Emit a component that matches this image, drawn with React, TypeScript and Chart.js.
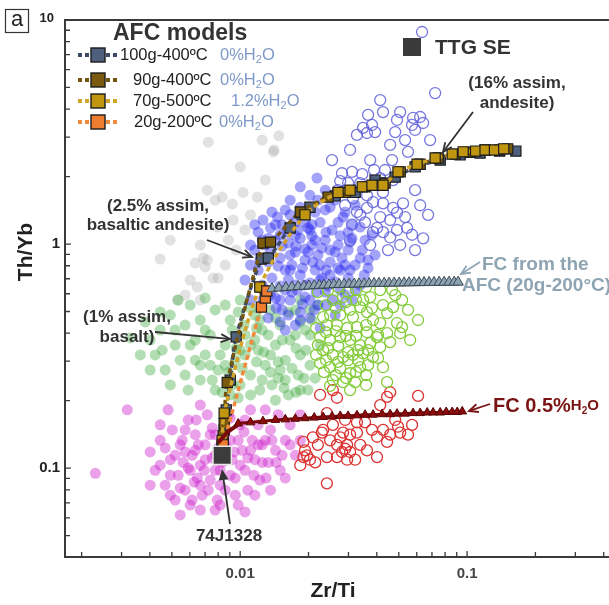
import React, { useEffect, useRef } from "react";
import { Chart, registerables } from "chart.js";

Chart.register(...registerables);

type Pt = [number, number];

// ---------- axes ----------
const xRange: [number, number] = [0.00169, 0.422];
const yRange: [number, number] = [0.0401, 10];
const xTickValues = [0.01, 0.1];
const xTickLabels = ["0.01", "0.1"];
const yTickValues = [0.1, 1, 10];
const yTickLabels = ["0.1", "1", "10"];
const xTitle = "Zr/Ti";
const yTitle = "Th/Yb";

// ---------- data clouds (Zr/Ti, Th/Yb) ----------
const greyCloud: Pt[] = [
  [0.00723, 2.85], [0.0148, 3.04], [0.0141, 2.63], [0.01, 2.21], [0.0103, 1.7], [0.0119, 1.62],
  [0.00833, 1.62], [0.00923, 1.51], [0.00716, 1.74], [0.00776, 1.57], [0.00667, 0.99], [0.00687, 0.866],
  [0.00444, 0.857], [0.00634, 0.822], [0.00701, 0.79], [0.00647, 0.643], [0.00667, 0.562], [0.00528, 0.562],
  [0.0076, 0.705], [0.00716, 0.848], [0.00792, 1.19], [0.00932, 1.28], [0.008, 0.705], [0.00602, 0.691],
  [0.014, 2.58], [0.00887, 1.04], [0.00859, 0.806], [0.0105, 1.155], [0.00572, 0.592], [0.0111, 1.35],
  [0.0129, 1.93], [0.0096, 0.94], [0.0125, 2.91], [0.00492, 1.04],
];

const blueCloud: Pt[] = [
  [0.0184, 1.8], [0.0218, 1.97], [0.0203, 1.65], [0.0237, 1.74], [0.0166, 1.57], [0.0262, 1.57],
  [0.0184, 1.46], [0.0249, 1.46], [0.0146, 1.32], [0.0126, 1.28], [0.0158, 1.42], [0.0214, 1.39],
  [0.029, 1.39], [0.0321, 1.49], [0.0284, 1.32], [0.0338, 1.19], [0.0136, 1.18], [0.0153, 1.22],
  [0.0175, 1.25], [0.0199, 1.18], [0.0225, 1.25], [0.0254, 1.155], [0.0299, 1.13], [0.0381, 1.1],
  [0.012, 1.13], [0.0129, 0.99], [0.0143, 1.04], [0.0163, 1.01], [0.0184, 1.06], [0.0207, 0.99],
  [0.0237, 1.04], [0.027, 0.99], [0.0305, 1.02], [0.0345, 0.94], [0.0393, 0.893], [0.0116, 0.94],
  [0.0175, 0.921], [0.022, 0.893], [0.0133, 0.831], [0.015, 0.866], [0.0169, 0.806], [0.0193, 0.848],
  [0.0249, 0.831], [0.0281, 0.866], [0.0321, 0.806], [0.0366, 0.781], [0.0111, 0.806], [0.0158, 0.765],
  [0.0214, 0.765], [0.0138, 0.705], [0.0163, 0.691], [0.0184, 0.727], [0.0203, 0.67], [0.0229, 0.705],
  [0.0262, 0.677], [0.0299, 0.705], [0.0338, 0.656], [0.0105, 0.691], [0.0125, 0.656], [0.0178, 0.623],
  [0.0237, 0.61], [0.0143, 0.574], [0.0166, 0.562], [0.0193, 0.58], [0.022, 0.534], [0.0254, 0.562],
  [0.029, 0.592], [0.0153, 0.508], [0.0184, 0.497], [0.0126, 0.562], [0.0203, 0.468], [0.015, 0.449],
  [0.0175, 0.435], [0.0225, 0.422], [0.0133, 0.468], [0.0262, 0.482], [0.015, 1.1], [0.0193, 0.95],
  [0.0166, 0.893], [0.0225, 0.806], [0.0276, 0.765], [0.0203, 1.155], [0.0175, 0.656], [0.0249, 0.94],
  [0.0136, 0.592], [0.0321, 0.623], [0.0158, 0.623], [0.0214, 1.04], [0.0111, 0.562], [0.0237, 1.42],
  [0.0143, 1.22], [0.0161, 1.13], [0.018, 1.155], [0.0207, 1.09], [0.0239, 1.13], [0.0276, 1.09],
  [0.0311, 1.06], [0.0133, 1.06], [0.0153, 0.98], [0.0176, 0.98], [0.0199, 0.921], [0.0229, 0.96],
  [0.0262, 0.921], [0.0299, 0.94], [0.0338, 0.866], [0.0136, 0.921], [0.0147, 0.798], [0.0166, 0.765],
  [0.0188, 0.781], [0.0209, 0.831], [0.0239, 0.765], [0.027, 0.781], [0.0305, 0.765], [0.0352, 0.727],
  [0.012, 0.765], [0.013, 0.623], [0.015, 0.65], [0.0169, 0.61], [0.0191, 0.656], [0.0216, 0.61],
  [0.0244, 0.65], [0.0276, 0.623], [0.0311, 0.562], [0.0144, 0.518], [0.0163, 0.482], [0.0188, 0.54],
  [0.0212, 0.508], [0.0239, 0.534], [0.0276, 0.534], [0.0122, 0.848], [0.0138, 1.39], [0.0166, 1.35],
  [0.0193, 1.25], [0.022, 1.57], [0.027, 1.25], [0.0311, 1.22], [0.0355, 1.04], [0.015, 0.562],
  [0.0184, 0.458], [0.0158, 0.413], [0.0203, 0.562], [0.0225, 0.691], [0.0175, 1.09], [0.0249, 0.727],
  [0.029, 0.806], [0.0125, 1.04], [0.0116, 1.22], [0.0111, 0.99], [0.0366, 0.848], [0.0207, 1.22],
];

const greenCloud: Pt[] = [
  [0.00363, 0.32], [0.00401, 0.373], [0.00444, 0.413], [0.00492, 0.482], [0.00517, 0.354], [0.00544, 0.303],
  [0.00572, 0.435], [0.00602, 0.534], [0.00634, 0.373], [0.00667, 0.458], [0.00701, 0.32], [0.00738, 0.393],
  [0.00776, 0.508], [0.008, 0.274], [0.00859, 0.354], [0.00904, 0.458], [0.00951, 0.303], [0.01, 0.562],
  [0.0105, 0.393], [0.0111, 0.26], [0.0116, 0.482], [0.012, 0.336], [0.0125, 0.413], [0.0129, 0.288],
  [0.0136, 0.508], [0.0138, 0.235], [0.0143, 0.354], [0.015, 0.435], [0.0158, 0.303], [0.0163, 0.212],
  [0.0166, 0.373], [0.0175, 0.508], [0.018, 0.26], [0.0184, 0.32], [0.0193, 0.413], [0.0199, 0.223],
  [0.0203, 0.288], [0.0111, 0.212], [0.00922, 0.235], [0.00776, 0.223], [0.00667, 0.247], [0.00572, 0.26],
  [0.00467, 0.274], [0.00401, 0.274], [0.00328, 0.381], [0.0143, 0.201], [0.0122, 0.223], [0.0105, 0.32],
  [0.0184, 0.562], [0.0207, 0.458], [0.0225, 0.354], [0.0158, 0.247], [0.0136, 0.32], [0.0116, 0.373],
  [0.01, 0.336], [0.00904, 0.212], [0.0175, 0.393], [0.015, 0.274], [0.0122, 0.458], [0.00859, 0.288],
  [0.00738, 0.288], [0.00634, 0.303], [0.0184, 0.223],
  [0.00859, 0.534], [0.0098, 0.497], [0.0111, 0.518], [0.0125, 0.534], [0.0143, 0.468], [0.0163, 0.497],
  [0.0184, 0.449], [0.0203, 0.393], [0.00922, 0.413], [0.0104, 0.435], [0.0118, 0.422], [0.0133, 0.393],
  [0.0153, 0.373], [0.0176, 0.343], [0.0195, 0.336], [0.00816, 0.32], [0.0096, 0.343], [0.0111, 0.354],
  [0.0127, 0.329], [0.0147, 0.298], [0.0169, 0.279], [0.0191, 0.252], [0.00887, 0.268], [0.0102, 0.279],
  [0.0118, 0.298], [0.0136, 0.268], [0.0156, 0.228], [0.0176, 0.218], [0.01, 0.235], [0.0125, 0.247],
  [0.0147, 0.252], [0.00701, 0.413], [0.00602, 0.354], [0.00517, 0.413], [0.00453, 0.336], [0.00667, 0.288],
  [0.00753, 0.247], [0.0059, 0.223], [0.00492, 0.235], [0.00422, 0.32], [0.00382, 0.449], [0.00444, 0.497],
  [0.00533, 0.562], [0.00701, 0.574], [0.00833, 0.218], [0.0098, 0.206], [0.0214, 0.252], [0.022, 0.534],
  [0.0203, 0.508],
];

const magentaCloud: Pt[] = [
  [0.0023, 0.0948], [0.00318, 0.182], [0.00401, 0.118], [0.00422, 0.0977], [0.00444, 0.133], [0.00467, 0.0839],
  [0.00492, 0.109], [0.00502, 0.148], [0.00517, 0.072], [0.00533, 0.0929], [0.00544, 0.127], [0.00561, 0.106],
  [0.00572, 0.0797], [0.0059, 0.164], [0.00602, 0.0684], [0.00614, 0.114], [0.00634, 0.141], [0.00647, 0.0902],
  [0.00667, 0.103], [0.0068, 0.0757], [0.00701, 0.127], [0.00716, 0.173], [0.00738, 0.0884], [0.00753, 0.111],
  [0.00776, 0.141], [0.00792, 0.072], [0.00816, 0.0977], [0.00859, 0.0797], [0.00887, 0.173], [0.00904, 0.133],
  [0.00922, 0.109], [0.00951, 0.0902], [0.0098, 0.0684], [0.01, 0.156], [0.0102, 0.12], [0.0105, 0.0977],
  [0.0108, 0.0797], [0.0111, 0.182], [0.0113, 0.133], [0.0116, 0.109], [0.012, 0.156], [0.0122, 0.0884],
  [0.0125, 0.127], [0.0129, 0.182], [0.0133, 0.106], [0.0136, 0.148], [0.0143, 0.12], [0.0147, 0.173],
  [0.015, 0.0977], [0.0158, 0.133], [0.0166, 0.156], [0.0175, 0.114], [0.0184, 0.173], [0.00481, 0.182],
  [0.00667, 0.191], [0.00776, 0.065], [0.0105, 0.0637], [0.00544, 0.0618], [0.0158, 0.0902], [0.00602, 0.0977],
  [0.00634, 0.12], [0.00701, 0.109], [0.00776, 0.114], [0.00859, 0.127], [0.00738, 0.141], [0.00816, 0.0839],
  [0.00667, 0.0839], [0.00572, 0.118], [0.00904, 0.0929], [0.0111, 0.12], [0.01, 0.103], [0.0129, 0.133],
  [0.00492, 0.0929], [0.00444, 0.103],
  [0.00517, 0.114], [0.00555, 0.133], [0.0059, 0.1], [0.00627, 0.0866], [0.00654, 0.127], [0.00694, 0.0977],
  [0.00723, 0.0797], [0.00753, 0.151], [0.008, 0.123], [0.00833, 0.106], [0.00868, 0.148], [0.00941, 0.118],
  [0.0098, 0.133], [0.0104, 0.145], [0.0108, 0.111], [0.0115, 0.0929], [0.012, 0.127], [0.0125, 0.106],
  [0.013, 0.0902], [0.0138, 0.133], [0.0144, 0.106], [0.0153, 0.114], [0.00444, 0.156], [0.00401, 0.0839],
  [0.00467, 0.123], [0.00572, 0.148], [0.0064, 0.164], [0.00904, 0.167], [0.00816, 0.0684], [0.00667, 0.065],
  [0.00492, 0.0757], [0.00544, 0.0814], [0.00614, 0.072], [0.00951, 0.0757], [0.0116, 0.0757], [0.0136, 0.0797],
  [0.0166, 0.127], [0.0184, 0.133], [0.0105, 0.164], [0.00776, 0.0977],
];

const blueRings: Pt[] = [
  [0.0633, 8.84], [0.0723, 4.72], [0.0414, 4.39], [0.0426, 3.88], [0.0507, 3.88], [0.0491, 3.58],
  [0.0578, 3.66], [0.0621, 3.69], [0.0572, 3.4], [0.064, 3.47], [0.0482, 3.16], [0.059, 3.23],
  [0.0348, 3.3], [0.0381, 3.4], [0.0327, 3.07], [0.0362, 3.13], [0.0393, 3.16], [0.0549, 2.58],
  [0.0254, 2.37], [0.0281, 2.07], [0.0311, 2.1], [0.0345, 2.05], [0.0389, 2.14], [0.0435, 2.14],
  [0.0414, 1.97], [0.0472, 1.93], [0.0276, 1.91], [0.0299, 1.87], [0.0338, 1.87], [0.0426, 1.7],
  [0.0314, 1.6], [0.0362, 1.65], [0.0385, 1.54], [0.0426, 1.52], [0.0522, 1.52], [0.0472, 1.45],
  [0.0327, 1.39], [0.0362, 1.45], [0.0414, 1.32], [0.0458, 1.28], [0.0491, 1.38], [0.0533, 1.32],
  [0.0338, 1.35], [0.0355, 1.25], [0.0544, 1.18], [0.0401, 1.18], [0.0426, 1.13], [0.0458, 1.07],
  [0.0491, 1.155], [0.0572, 1.1], [0.064, 1.06], [0.0448, 0.94], [0.0385, 1.13],
  [0.0305, 2.63], [0.0458, 2.77], [0.0533, 2.91], [0.0374, 2.37], [0.059, 1.74], [0.0621, 1.49],
  [0.029, 1.49], [0.0311, 1.22], [0.0374, 0.99], [0.0507, 0.99], [0.059, 0.94], [0.0673, 1.35],
  [0.0467, 2.37], [0.0366, 3.77], [0.0687, 2.91], [0.0305, 1.04], [0.027, 1.74],
];

const limeRings: Pt[] = [
  [0.0414, 0.623], [0.0467, 0.623], [0.0517, 0.562], [0.0472, 0.523], [0.0426, 0.534], [0.0374, 0.58],
  [0.0348, 0.562], [0.0338, 0.523], [0.0305, 0.508], [0.0284, 0.58], [0.0256, 0.562], [0.0232, 0.472],
  [0.0249, 0.482], [0.0276, 0.482], [0.0314, 0.472], [0.0362, 0.497], [0.0385, 0.458], [0.0414, 0.444],
  [0.0444, 0.492], [0.0491, 0.444], [0.0517, 0.426], [0.0608, 0.458], [0.0507, 0.4], [0.0444, 0.4],
  [0.0401, 0.384], [0.0362, 0.404], [0.0327, 0.426], [0.0296, 0.422], [0.0267, 0.435], [0.0241, 0.435],
  [0.0225, 0.384], [0.0249, 0.373], [0.0276, 0.384], [0.0305, 0.373], [0.0338, 0.354], [0.0374, 0.361],
  [0.0414, 0.347], [0.0458, 0.365], [0.0232, 0.336], [0.0256, 0.32], [0.0284, 0.313], [0.0314, 0.32],
  [0.0348, 0.325], [0.0385, 0.313], [0.0225, 0.294], [0.0249, 0.282], [0.0276, 0.279], [0.0305, 0.265],
  [0.0338, 0.282], [0.0426, 0.282], [0.0444, 0.242], [0.0284, 0.242], [0.0256, 0.247], [0.0321, 0.242],
  [0.022, 0.61], [0.0244, 0.623], [0.027, 0.643], [0.0299, 0.61], [0.0324, 0.623], [0.0359, 0.643],
  [0.0239, 0.534], [0.0264, 0.518], [0.0293, 0.551], [0.0324, 0.562], [0.0381, 0.518], [0.0216, 0.422],
  [0.0239, 0.404], [0.0264, 0.409], [0.0293, 0.389], [0.0324, 0.389], [0.0359, 0.435], [0.022, 0.354],
  [0.0244, 0.343], [0.027, 0.351], [0.0299, 0.329], [0.0331, 0.336], [0.0366, 0.336], [0.0405, 0.393],
  [0.0216, 0.32], [0.0239, 0.303], [0.027, 0.298], [0.0299, 0.303], [0.0331, 0.303], [0.0366, 0.288],
  [0.0405, 0.31], [0.0234, 0.268], [0.0264, 0.26], [0.0293, 0.252], [0.0324, 0.268], [0.0359, 0.26],
  [0.0249, 0.233], [0.0305, 0.223], [0.0359, 0.235], [0.0482, 0.592], [0.0549, 0.508], [0.0561, 0.373],
];

const redRings: Pt[] = [
  [0.0225, 0.212], [0.0256, 0.223], [0.0267, 0.206], [0.0458, 0.218], [0.0444, 0.208], [0.0608, 0.21],
  [0.0414, 0.191], [0.0241, 0.176], [0.0232, 0.148], [0.0256, 0.156], [0.0284, 0.144], [0.0276, 0.137],
  [0.0305, 0.141], [0.0327, 0.144], [0.0267, 0.127], [0.0296, 0.127], [0.0305, 0.118], [0.0281, 0.118],
  [0.0267, 0.112], [0.019, 0.131], [0.0209, 0.137], [0.019, 0.112], [0.0203, 0.109], [0.0214, 0.106],
  [0.0241, 0.112], [0.0296, 0.109], [0.0362, 0.12], [0.0401, 0.112], [0.0355, 0.16], [0.0426, 0.148],
  [0.0458, 0.141], [0.0496, 0.153], [0.0507, 0.144], [0.0549, 0.141], [0.0444, 0.131], [0.0401, 0.138],
  [0.0241, 0.0855], [0.0229, 0.144], [0.0327, 0.16], [0.029, 0.122], [0.0197, 0.114],
  [0.0193, 0.12], [0.022, 0.127], [0.0249, 0.133], [0.029, 0.164], [0.0338, 0.127], [0.0381, 0.148],
  [0.0482, 0.164], [0.0572, 0.156], [0.0184, 0.103], [0.0321, 0.109],
];

// ---------- AFC models ----------
const afcLabels = ["100g-400ºC", "90g-400ºC", "70g-500ºC", "20g-200ºC"];
const afcWater = ["0%", "0%", "1.2%", "0%"];

const afc100: Pt[] = [
  [0.00833, 0.124], [0.0085, 0.148], [0.00868, 0.182], [0.00904, 0.247], [0.0096, 0.385], [0.0124, 0.857],
  [0.0133, 0.866], [0.0166, 1.18], [0.0203, 1.46], [0.0262, 1.64], [0.0321, 1.7], [0.0393, 1.93],
  [0.0482, 1.99], [0.059, 2.21], [0.0761, 2.37], [0.0932, 2.5], [0.114, 2.55], [0.139, 2.6], [0.164, 2.6],
];
const afc90: Pt[] = [
  [0.00833, 0.127], [0.00842, 0.14], [0.0085, 0.158], [0.00877, 0.241], [0.0126, 1.01], [0.0136, 1.02],
  [0.0184, 1.39], [0.0244, 1.62], [0.029, 1.7], [0.0355, 1.8], [0.0435, 1.87], [0.0507, 2.1],
  [0.0621, 2.27], [0.0745, 2.42], [0.0886, 2.52], [0.103, 2.57], [0.12, 2.63], [0.139, 2.63], [0.151, 2.66],
];
const afc70: Pt[] = [
  [0.00833, 0.133], [0.0085, 0.176], [0.0122, 0.643], [0.0193, 1.35], [0.027, 1.7], [0.0305, 1.74],
  [0.0345, 1.8], [0.0381, 1.83], [0.0426, 1.83], [0.0496, 2.1], [0.0602, 2.27], [0.0723, 2.42],
  [0.086, 2.52], [0.0961, 2.58], [0.109, 2.6], [0.12, 2.63], [0.132, 2.63], [0.145, 2.66],
];
const afc20: Pt[] = [[0.00842, 0.127], [0.0124, 0.523], [0.0129, 0.574], [0.0131, 0.617]];

// FC from the AFC (20g-200ºC)
const fcAfcZrTi = [
  0.0138, 0.0148, 0.0159, 0.0169, 0.018, 0.0191, 0.0201, 0.0212, 0.0223, 0.0234, 0.0246, 0.0259, 0.0273,
  0.0287, 0.0302, 0.0318, 0.0334, 0.0352, 0.037, 0.0389, 0.0409, 0.0431, 0.0453, 0.0477, 0.0502, 0.0528,
  0.0555, 0.0584, 0.0614, 0.0646, 0.068, 0.0715, 0.0753, 0.0792, 0.0833, 0.0877, 0.0913,
];
const fcAfcThYb = [
  0.632, 0.636, 0.64, 0.643, 0.646, 0.648, 0.65, 0.652, 0.654, 0.656, 0.657, 0.659, 0.66,
  0.661, 0.662, 0.663, 0.664, 0.665, 0.666, 0.667, 0.668, 0.668, 0.669, 0.67, 0.67, 0.671,
  0.672, 0.672, 0.673, 0.673, 0.674, 0.674, 0.675, 0.675, 0.676, 0.676, 0.676,
];

// FC 0.5% H2O
const fcWaterStem: Pt[] = [[0.008, 0.13], [0.00887, 0.146], [0.0096, 0.154], [0.0098, 0.158]];
const fcWaterZrTi = [
  0.0098, 0.0111, 0.0126, 0.0143, 0.0158, 0.0175, 0.0193, 0.0212, 0.0232, 0.0254, 0.0276, 0.0299, 0.0327,
  0.0355, 0.0385, 0.0422, 0.0458, 0.0491, 0.0533, 0.0578, 0.0621, 0.0667, 0.0708, 0.0761, 0.0809, 0.086,
  0.0905, 0.0952,
];
const fcWaterThYb = [
  0.158, 0.16, 0.162, 0.164, 0.165, 0.166, 0.167, 0.168, 0.169, 0.17, 0.171, 0.171, 0.172,
  0.173, 0.173, 0.174, 0.174, 0.175, 0.175, 0.176, 0.176, 0.177, 0.177, 0.177, 0.178, 0.178,
  0.178, 0.179,
];

const ttgSE: Pt[] = [[0.00833, 0.114]];

// ---------- styling ----------
const FONT = '"Liberation Sans", Arial, Helvetica, sans-serif';
const afcLine = ["#3d4b68", "#735510", "#d3a42a", "#f08a3c"];
const afcFill = ["#4f607f", "#7a5a0c", "#c0950f", "#f07c30"];

const xy = (a: Pt[]) => a.map(([x, y]) => ({ x, y }));
const zip = (xs: number[], ys: number[]) => xs.map((x, i) => ({ x, y: ys[i] }));

const cloud = (label: string, pts: Pt[], color: string, order: number) => ({
  label, data: xy(pts), backgroundColor: color, borderWidth: 0, pointRadius: 5.5, pointHoverRadius: 5.5, order,
});
const ring = (label: string, pts: Pt[], color: string, order: number) => ({
  label, data: xy(pts), backgroundColor: "rgba(0,0,0,0)", borderColor: color, borderWidth: 1.3,
  pointRadius: 5.5, pointHoverRadius: 5.5, order,
});
const model = (i: number, pts: Pt[], order: number) => ({
  label: afcLabels[i], data: xy(pts), showLine: true, tension: 0.3,
  borderColor: afcLine[i], borderWidth: 3.5, borderDash: [5, 3],
  pointStyle: "rect", pointRadius: 7.2, pointHoverRadius: 7.2,
  pointBackgroundColor: afcFill[i], pointBorderColor: "#1c1c1c", pointBorderWidth: 1.2, order,
});

function txt(ctx: CanvasRenderingContext2D, s: string, x: number, y: number, size: number, color: string,
  bold = true, align: CanvasTextAlign = "left") {
  ctx.font = `${bold ? "bold " : ""}${size}px ${FONT}`;
  ctx.fillStyle = color;
  ctx.textAlign = align;
  ctx.textBaseline = "middle";
  ctx.fillText(s, x, y);
  return ctx.measureText(s).width;
}

function chem(ctx: CanvasRenderingContext2D, lead: string, x: number, y: number, size: number,
  subSize: number, color: string, bold: boolean, leadSize?: number) {
  let cx = x;
  cx += txt(ctx, lead, cx, y, leadSize ?? size, color, bold);
  cx += txt(ctx, "H", cx, y, size, color, bold);
  cx += txt(ctx, "2", cx, y + size * 0.32, subSize, color, bold);
  txt(ctx, "O", cx, y, size, color, bold);
}

function arrow(ctx: CanvasRenderingContext2D, x1: number, y1: number, x2: number, y2: number,
  color: string, filled = false, head = 10, width = 1.8) {
  const a = Math.atan2(y2 - y1, x2 - x1);
  ctx.save();
  ctx.strokeStyle = color;
  ctx.fillStyle = color;
  ctx.lineWidth = width;
  ctx.setLineDash([]);
  ctx.beginPath();
  ctx.moveTo(x1, y1);
  ctx.lineTo(x2 - Math.cos(a) * (filled ? head * 0.8 : 1), y2 - Math.sin(a) * (filled ? head * 0.8 : 1));
  ctx.stroke();
  ctx.beginPath();
  ctx.moveTo(x2 - head * Math.cos(a - 0.42), y2 - head * Math.sin(a - 0.42));
  ctx.lineTo(x2, y2);
  ctx.lineTo(x2 - head * Math.cos(a + 0.42), y2 - head * Math.sin(a + 0.42));
  if (filled) { ctx.closePath(); ctx.fill(); } else ctx.stroke();
  ctx.restore();
}

const decor = {
  id: "decor",
  beforeDraw(chart: any) {
    const ctx = chart.ctx as CanvasRenderingContext2D;
    ctx.save();
    ctx.fillStyle = "#fff";
    ctx.fillRect(0, 0, chart.width, chart.height);
    ctx.restore();
  },
  afterDraw(chart: any) {
    const ctx = chart.ctx as CanvasRenderingContext2D;
    const { left, right, top, bottom } = chart.chartArea;
    const xs = chart.scales.x;
    const ys = chart.scales.y;
    ctx.save();

    // frame
    ctx.strokeStyle = "#3a3a3a";
    ctx.lineWidth = 2;
    ctx.beginPath();
    ctx.moveTo(right, top); ctx.lineTo(left, top); ctx.lineTo(left, bottom); ctx.lineTo(right, bottom);
    ctx.stroke();

    // inward ticks
    ctx.lineWidth = 1.3;
    ctx.beginPath();
    for (let e = -3; e <= 1; e++) {
      for (let m = 1; m <= 9; m++) {
        const v = m * Math.pow(10, e);
        if (v >= xRange[0] && v <= xRange[1]) {
          const px = xs.getPixelForValue(v);
          ctx.moveTo(px, bottom); ctx.lineTo(px, bottom - (m === 1 ? 6 : 5));
        }
        if (v >= yRange[0] && v <= yRange[1]) {
          const py = ys.getPixelForValue(v);
          ctx.moveTo(left, py); ctx.lineTo(left + (m === 1 ? 6 : 5), py);
        }
      }
    }
    ctx.stroke();

    // tick labels
    xTickValues.forEach((v, i) => txt(ctx, xTickLabels[i], xs.getPixelForValue(v), bottom + 17, 15, "#444", true, "center"));
    yTickValues.forEach((v, i) => {
      const py = ys.getPixelForValue(v);
      const top10 = v >= yRange[1];
      txt(ctx, yTickLabels[i], top10 ? 54 : 60, top10 ? py - 2 : py, top10 ? 13 : 15, "#222", true, "right");
    });

    // axis titles
    txt(ctx, xTitle, 333, bottom + 34, 21, "#222", true, "center");
    ctx.save();
    ctx.translate(26, 252);
    ctx.rotate(-Math.PI / 2);
    txt(ctx, yTitle, 0, 0, 21, "#222", true, "center");
    ctx.restore();

    // panel letter
    ctx.strokeStyle = "#333";
    ctx.lineWidth = 1.2;
    ctx.strokeRect(5.5, 9.5, 23, 23);
    txt(ctx, "a", 17, 20, 22, "#222", false, "center");

    // AFC legend
    txt(ctx, "AFC models", 113, 34, 23, "#333", true);
    const rowY = [55, 80, 101, 122];
    const nameX = [120, 133, 133, 134];
    const waterX = [220, 220, 231, 219];
    rowY.forEach((ry, i) => {
      ctx.save();
      ctx.strokeStyle = afcLine[i];
      ctx.lineWidth = 4;
      ctx.setLineDash([4, 3]);
      ctx.beginPath(); ctx.moveTo(78, ry); ctx.lineTo(119, ry); ctx.stroke();
      ctx.setLineDash([]);
      ctx.fillStyle = afcFill[i];
      ctx.fillRect(91, ry - 7, 14, 14);
      ctx.strokeStyle = "#1c1c1c";
      ctx.lineWidth = 1.4;
      ctx.strokeRect(91, ry - 7, 14, 14);
      ctx.restore();
      txt(ctx, afcLabels[i], nameX[i], ry, 16.5, "#222", false);
      chem(ctx, afcWater[i], waterX[i], ry, 16.5, 11, "#7e98c8", false);
    });

    // TTG SE legend
    ctx.fillStyle = "#3a3a3a";
    ctx.fillRect(403, 38, 18, 18);
    txt(ctx, "TTG SE", 435, 48, 21, "#333", true);

    // annotations
    const dark = "#333";
    txt(ctx, "(16% assim,", 517, 83, 17, dark, true, "center");
    txt(ctx, "andesite)", 517, 103, 17, dark, true, "center");
    arrow(ctx, 473, 112, 443, 152, dark);

    txt(ctx, "(2.5% assim,", 158, 206, 17, dark, true, "center");
    txt(ctx, "basaltic andesite)", 158, 225, 17, dark, true, "center");
    arrow(ctx, 207, 240, 252, 257, dark);

    txt(ctx, "(1% assim,", 127, 317, 17, dark, true, "center");
    txt(ctx, "basalt)", 127, 337, 17, dark, true, "center");
    arrow(ctx, 155, 332, 230, 339, dark);

    txt(ctx, "74J1328", 229, 536, 17, dark, true, "center");
    arrow(ctx, 230, 524, 222, 469, dark, true, 12);

    const fcGrey = "#8fa4b3";
    txt(ctx, "FC from the", 482, 265, 19, fcGrey, true);
    txt(ctx, "AFC (20g-200°C)", 462, 286, 19, fcGrey, true);
    arrow(ctx, 480, 262, 461, 274, fcGrey);

    const fcRed = "#7a1414";
    chem(ctx, "FC 0.5%", 493, 406, 15, 10, fcRed, true, 20);
    arrow(ctx, 490, 404, 469, 411, fcRed);

    ctx.restore();
  },
};

export default function App() {
  const ref = useRef<HTMLCanvasElement>(null);
  useEffect(() => {
    const canvas = ref.current;
    if (!canvas) return;
    const datasets: any[] = [
      {
        label: "TTG SE", data: xy(ttgSE), pointStyle: "rect", pointRadius: 13, pointHoverRadius: 13,
        backgroundColor: "#3c3c3c", borderColor: "#e8e8e8", borderWidth: 1.5, order: 0,
      },
      {
        label: "FC 0.5%H2O", data: zip(fcWaterZrTi, fcWaterThYb), showLine: true, borderColor: "#7a0a0a",
        borderWidth: 3, pointStyle: "triangle", pointRadius: 5, pointHoverRadius: 5,
        pointBackgroundColor: "#8a0c0c", pointBorderColor: "#5a0505", pointBorderWidth: 1, order: 1,
      },
      {
        label: "FC 0.5%H2O path", data: xy(fcWaterStem), showLine: true, borderColor: "#7a0a0a",
        borderWidth: 4, pointRadius: 0, pointHoverRadius: 0, order: 2,
      },
      {
        label: "FC from the AFC", data: zip(fcAfcZrTi, fcAfcThYb), showLine: true, borderColor: "#3e4e5a",
        borderWidth: 2, pointStyle: "triangle", pointRadius: 6, pointHoverRadius: 6,
        pointBackgroundColor: "#8ea3b2", pointBorderColor: "#3a4a56", pointBorderWidth: 1, order: 3,
      },
      model(3, afc20, 4),
      model(2, afc70, 5),
      model(1, afc90, 6),
      model(0, afc100, 7),
      ring("blue rings", blueRings, "rgba(95,95,220,0.85)", 10),
      ring("lime rings", limeRings, "#84cc3a", 11),
      ring("red rings", redRings, "#dc3232", 12),
      cloud("blue cloud", blueCloud, "rgba(35,35,240,0.42)", 13),
      cloud("green cloud", greenCloud, "rgba(55,165,55,0.38)", 14),
      cloud("magenta cloud", magentaCloud, "rgba(205,30,205,0.42)", 15),
      cloud("grey cloud", greyCloud, "rgba(160,160,160,0.3)", 16),
    ];
    const chart = new Chart(canvas, {
      type: "scatter",
      data: { datasets },
      options: {
        animation: false,
        responsive: false,
        devicePixelRatio: 1,
        layout: { autoPadding: false, padding: { top: 20, right: 0, left: 0, bottom: 0 } },
        plugins: { legend: { display: false }, tooltip: { enabled: false } },
        scales: {
          x: {
            type: "logarithmic", min: xRange[0], max: xRange[1],
            grid: { display: false, drawTicks: false }, border: { display: false },
            ticks: { display: false },
            afterFit: (s: any) => { s.height = 48; },
          },
          y: {
            type: "logarithmic", min: yRange[0], max: yRange[1],
            grid: { display: false, drawTicks: false }, border: { display: false },
            ticks: { display: false },
            afterFit: (s: any) => { s.width = 65; },
          },
        },
      } as any,
      plugins: [decor],
    });
    return () => chart.destroy();
  }, []);
  return (
    <div style={{ position: "absolute", left: 0, top: 0, width: 609, height: 605, background: "#fff" }}>
      <canvas ref={ref} width={609} height={605} style={{ display: "block", width: 609, height: 605 }} />
    </div>
  );
}
